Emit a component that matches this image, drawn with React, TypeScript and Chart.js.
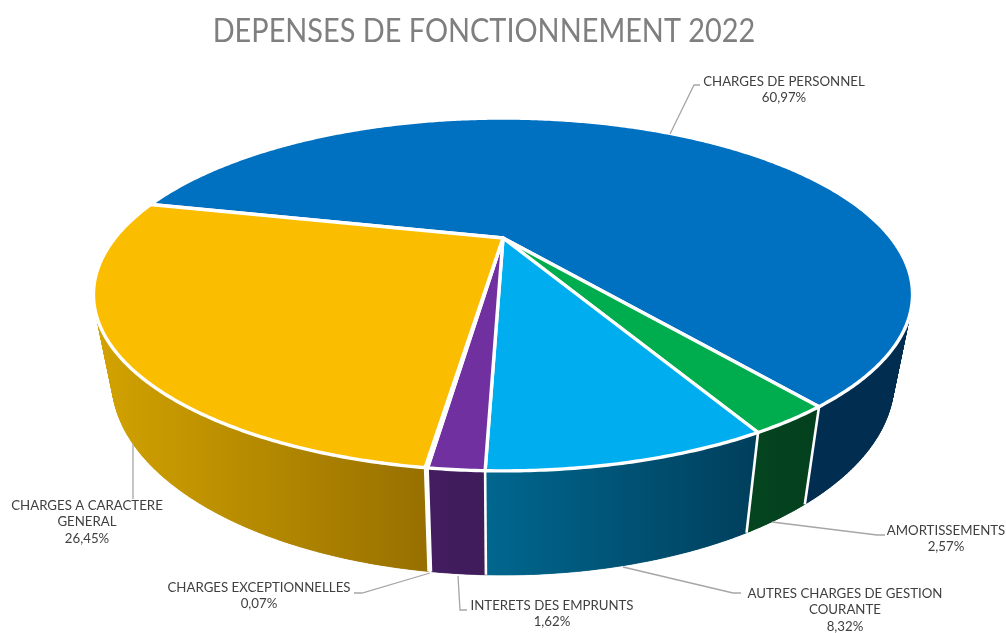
import React, { useEffect, useRef } from "react";
import { Chart, registerables } from "chart.js";

Chart.register(...registerables);

const TITLE = "DEPENSES DE FONCTIONNEMENT 2022";
const categories = [
  "CHARGES DE PERSONNEL",
  "AMORTISSEMENTS",
  "AUTRES CHARGES DE GESTION COURANTE",
  "INTERETS DES EMPRUNTS",
  "CHARGES EXCEPTIONNELLES",
  "CHARGES A CARACTERE GENERAL",
];
const values = [60.97, 2.57, 8.32, 1.62, 0.07, 26.45];
const topColors = ["#0070c0", "#00ad4e", "#00aeef", "#7030a0", "#ffffff", "#fbbd00"];
const wallFrom = ["#002d50", "#04441f", "#00678f", "#431d60", "#ffffff", "#d3a300"];
const wallTo = ["#002d50", "#03401d", "#003f5c", "#3f1c5a", "#ffffff", "#987000"];

// label placement, same order as categories
const labelLines = [
  ["CHARGES DE PERSONNEL"],
  ["AMORTISSEMENTS"],
  ["AUTRES CHARGES DE GESTION", "COURANTE"],
  ["INTERETS DES EMPRUNTS"],
  ["CHARGES EXCEPTIONNELLES"],
  ["CHARGES A CARACTERE", "GENERAL"],
];
const labelAnchor = [
  [784, 81],
  [946, 530],
  [845, 593],
  [552, 605],
  [259, 587],
  [87, 505],
];
const leaders = [
  [[670, 134], [694, 85], [700, 85]],
  [[772, 522], [877, 535], [885, 535]],
  [[623, 567], [733, 593], [741, 593]],
  [[458, 576], [460, 610], [467, 610]],
  [[430, 573], [362, 593], [354, 593]],
  [[133, 443], [133, 499]],
];

// perspective of the top face: unit disc -> picture
const X0 = 503, D = 388, A = 82.2, B = 238, C = -0.32;
const top = (a: number) => {
  const u = Math.cos(a), v = Math.sin(a), w = 1 + C * v;
  return [X0 + (D * u) / w, (A * v + B) / w];
};
const bottom = (a: number) => {
  const [x, y] = top(a);
  return [X0 + 0.955 * (x - X0), 1.1 * y + 57];
};

const frontRange = (s: number, e: number) => {
  for (const base of [0, 2 * Math.PI]) {
    const lo = Math.max(s, base), hi = Math.min(e, base + Math.PI);
    if (hi > lo) return [lo, hi];
  }
  return null;
};

const STEP = Math.PI / 360;

const pie3d = {
  id: "pie3d",
  beforeDatasetDraw(chart: any) {
    const ctx = chart.ctx;
    const arcs: any[] = chart.getDatasetMeta(0).data;
    ctx.save();
    // outer walls: one strip per slice, then small quads to fill the silhouette
    arcs.forEach((arc, i) => {
      const r = frontRange(arc.startAngle, arc.endAngle);
      if (!r) return;
      const n = Math.max(1, Math.ceil((r[1] - r[0]) / STEP));
      const tops: number[][] = [], bots: number[][] = [];
      for (let k = 0; k <= n; k++) {
        const a = r[0] + ((r[1] - r[0]) * k) / n;
        tops.push(top(a));
        bots.push(bottom(a));
      }
      const xs = tops.map((p) => p[0]);
      const g = ctx.createLinearGradient(Math.min(...xs), 0, Math.max(...xs), 0);
      g.addColorStop(0, wallFrom[i]);
      g.addColorStop(1, wallTo[i]);
      ctx.fillStyle = g;
      ctx.strokeStyle = g;
      ctx.lineWidth = 0.7;
      ctx.beginPath();
      tops.forEach((p, k) => (k ? ctx.lineTo(p[0], p[1]) : ctx.moveTo(p[0], p[1])));
      for (let k = n; k >= 0; k--) ctx.lineTo(bots[k][0], bots[k][1]);
      ctx.closePath();
      ctx.fill();
      for (let k = 0; k < n; k++) {
        ctx.beginPath();
        ctx.moveTo(tops[k][0], tops[k][1]);
        ctx.lineTo(tops[k + 1][0], tops[k + 1][1]);
        ctx.lineTo(bots[k + 1][0], bots[k + 1][1]);
        ctx.lineTo(bots[k][0], bots[k][1]);
        ctx.closePath();
        ctx.fill();
        ctx.stroke();
      }
    });
    // white dividers on the walls
    ctx.strokeStyle = "#ffffff";
    ctx.lineWidth = 2.6;
    arcs.forEach((arc) => {
      const p = top(arc.startAngle), b = bottom(arc.startAngle);
      ctx.beginPath();
      ctx.moveTo(p[0], p[1]);
      ctx.lineTo(b[0], b[1]);
      ctx.stroke();
    });
    // top face
    arcs.forEach((arc) => {
      const s = arc.startAngle, e = arc.endAngle;
      const n = Math.max(1, Math.ceil((e - s) / STEP));
      ctx.beginPath();
      ctx.moveTo(X0, B);
      for (let k = 0; k <= n; k++) {
        const p = top(s + ((e - s) * k) / n);
        ctx.lineTo(p[0], p[1]);
      }
      ctx.closePath();
      ctx.fillStyle = arc.options.backgroundColor;
      ctx.fill();
      ctx.lineWidth = 3.4;
      ctx.lineJoin = "round";
      ctx.strokeStyle = "#ffffff";
      ctx.stroke();
    });
    ctx.restore();
    return false;
  },
  afterDraw(chart: any) {
    const ctx = chart.ctx;
    ctx.save();
    ctx.strokeStyle = "#a6a6a6";
    ctx.lineWidth = 1.3;
    leaders.forEach((pts) => {
      ctx.beginPath();
      pts.forEach((p, k) => (k ? ctx.lineTo(p[0], p[1]) : ctx.moveTo(p[0], p[1])));
      ctx.stroke();
    });
    ctx.textAlign = "center";
    ctx.textBaseline = "middle";
    const put = (t: string, x: number, y: number, sx: number) => {
      ctx.save();
      ctx.translate(x, y);
      ctx.scale(sx, 1);
      ctx.fillText(t, 0, 0);
      ctx.restore();
    };
    ctx.fillStyle = "#7f7f7f";
    ctx.font = "33px Lato";
    put(TITLE, 484, 31, 0.875);
    ctx.fillStyle = "#404040";
    ctx.font = "14px Lato";
    labelLines.forEach((lines, i) => {
      const [x, y0] = labelAnchor[i];
      const all = [...lines, values[i].toFixed(2).replace(".", ",") + "%"];
      all.forEach((t, k) => put(t, x, y0 + k * 16.5, 0.947));
    });
    ctx.restore();
  },
};

export default function App() {
  const ref = useRef<HTMLCanvasElement | null>(null);
  useEffect(() => {
    const chart = new Chart(ref.current as HTMLCanvasElement, {
      type: "pie",
      data: {
        labels: categories,
        datasets: [{ data: values, backgroundColor: topColors, borderWidth: 0 }],
      },
      options: {
        responsive: false,
        animation: false,
        rotation: 283.1,
        plugins: {
          legend: { display: false },
          tooltip: { enabled: false },
          title: { display: false },
        },
      },
      plugins: [pie3d],
    } as any);
    return () => chart.destroy();
  }, []);
  return (
    <div style={{ position: "absolute", left: 0, top: 0, background: "#fff" }}>
      <canvas ref={ref} width={1006} height={633} style={{ display: "block" }} />
    </div>
  );
}
